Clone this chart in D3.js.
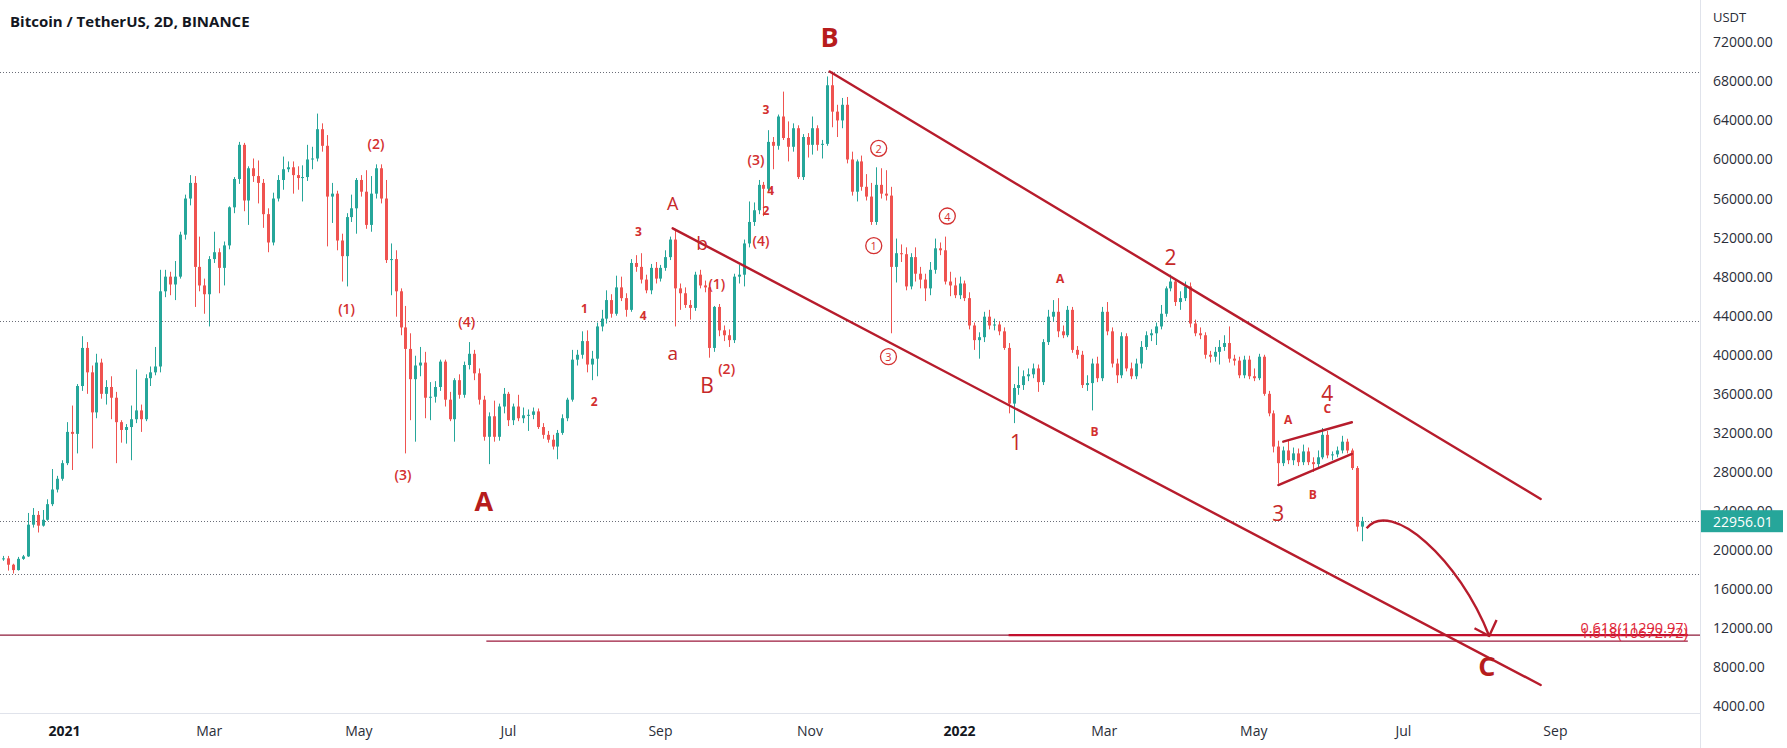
<!DOCTYPE html>
<html>
<head>
<meta charset="utf-8">
<script src="https://cdn.jsdelivr.net/npm/d3@7"></script>
<style>
  html, body { margin: 0; padding: 0; background: #fff; }
  svg { display: block; }
  text { font-family: "Open Sans", "Noto Sans", sans-serif; }
</style>
</head>
<body>
<script>
// BTC/USDT 2D candles, prices in thousands of USDT
const firstDay = new Date(Date.UTC(2020, 11, 7));
const stepDays = 2;

const opens = [
  19.05,19.15,18.5,17.95,19.1,19.35,22.6,23.6,22.5,23.1,
  24.7,26.2,27.3,28.9,32.1,31.9,36.8,40.7,38.2,34.1,
  39.2,36.0,36.7,35.6,33.1,32.3,32.6,33.4,34.3,33.4,
  37.6,38.2,38.8,46.5,48.0,47.2,48.0,52.3,56.0,57.6,
  49.0,47.1,46.2,49.8,50.5,48.9,51.2,55.1,58.0,61.5,
  55.8,59.1,58.3,57.6,54.4,51.5,56.0,57.9,59.0,59.2,
  58.4,58.1,58.2,60.0,60.1,63.1,61.4,56.2,56.5,51.7,
  50.1,54.1,55.0,57.9,56.7,53.3,56.5,59.1,56.0,49.7,
  49.8,46.5,42.8,40.6,37.5,38.9,39.2,35.6,35.7,36.7,
  39.3,35.4,33.4,37.4,35.9,38.95,40.1,38.1,35.4,31.6,
  33.7,31.6,34.7,36.0,33.3,34.7,33.5,33.8,33.85,34.2,
  32.6,31.8,31.3,30.6,32.0,33.5,35.4,39.5,40.0,41.4,
  39.0,39.6,42.9,43.7,45.6,44.2,46.9,45.8,44.6,49.4,
  49.0,47.7,46.6,48.9,47.8,48.9,50.0,51.8,46.8,46.3,
  45.1,44.8,48.2,47.1,46.9,40.7,44.9,42.5,42.0,41.5,
  48.0,48.2,51.4,53.6,54.8,57.4,57.0,61.8,61.4,64.4,
  62.2,61.3,63.2,58.2,62.3,61.5,63.2,61.5,61.6,67.6,
  64.9,64.0,65.6,60.0,56.7,59.8,57.2,56.2,53.6,57.4,
  56.5,56.3,49.0,50.4,50.3,47.0,50.0,48.3,47.7,46.8,
  48.7,50.9,50.7,47.5,47.1,46.1,47.3,45.8,43.0,41.5,
  41.8,43.9,43.0,43.1,42.4,40.7,35.0,36.6,36.9,37.8,
  38.0,38.6,37.2,41.3,43.9,44.4,42.4,42.0,44.6,40.5,
  40.0,36.9,37.1,39.1,37.6,44.4,42.4,39.1,37.9,41.9,
  38.6,37.8,39.1,40.8,42.0,42.2,42.9,44.2,46.8,47.5,
  45.4,45.8,47.0,43.2,42.2,42.0,40.0,39.8,40.3,40.8,
  41.2,39.6,39.4,37.9,39.5,37.8,37.6,39.8,36.0,34.0,
  30.6,28.9,30.2,29.2,29.9,29.0,30.1,29.0,28.8,29.5,
  31.8,29.7,29.8,30.2,31.1,30.2,28.4,22.4
];
const highs = [
  19.4,19.4,18.6,19.3,19.5,23.8,24.3,24.0,24.1,25.2,
  28.3,27.6,29.2,33.1,34.8,37.0,41.9,41.3,38.9,40.1,
  39.6,37.4,37.8,36.2,33.3,32.9,34.8,38.5,34.9,38.0,
  38.8,40.8,48.7,48.7,48.5,49.6,52.6,56.4,58.4,58.3,
  52.1,47.8,50.1,52.6,50.9,51.6,55.2,58.2,61.8,61.7,
  59.3,60.1,59.9,58.0,55.0,56.6,58.4,60.3,59.8,59.8,
  59.3,59.4,61.5,61.3,64.7,63.7,62.5,57.6,56.8,52.4,
  54.5,56.4,58.1,58.4,58.9,58.3,59.5,59.5,57.9,51.4,
  50.7,46.8,45.0,42.2,39.9,40.8,40.3,37.2,37.3,39.5,
  39.5,36.2,37.6,38.0,39.3,41.3,40.5,38.6,35.8,34.1,
  35.3,35.0,36.6,36.2,35.0,35.9,34.6,34.4,34.6,34.5,
  33.0,32.2,31.8,32.3,33.9,35.6,40.5,40.5,42.4,42.5,
  40.4,43.3,44.6,46.6,46.2,48.1,48.0,46.3,49.8,50.2,
  50.4,48.2,49.3,49.5,49.2,50.7,52.1,52.9,47.3,46.9,
  45.6,48.5,48.7,47.6,47.3,45.0,45.2,43.0,42.6,48.3,
  49.2,51.8,55.7,55.6,57.9,57.7,63.0,62.3,64.6,66.95,
  63.9,63.7,63.5,62.6,62.7,64.4,63.5,62.0,68.5,69.0,
  65.6,66.3,66.4,60.8,60.0,60.4,58.5,57.6,59.2,59.1,
  58.9,57.2,51.9,51.3,51.0,50.4,51.0,49.0,48.3,49.5,
  51.9,51.5,52.1,48.5,47.9,48.0,47.6,46.4,43.3,42.3,
  44.4,44.6,43.7,43.4,42.8,41.2,37.0,38.8,38.4,38.6,
  39.1,39.0,41.6,44.6,45.6,45.8,43.0,45.0,44.9,40.9,
  40.4,37.9,39.6,39.8,44.9,45.4,42.8,39.6,42.3,42.2,
  39.2,39.6,41.4,42.4,42.6,43.3,45.1,47.0,48.2,47.7,
  46.5,47.5,47.4,43.6,42.8,42.3,40.4,40.8,41.5,42.0,
  42.9,40.0,39.8,39.9,39.9,38.6,40.1,40.0,36.3,34.3,
  31.2,30.6,31.2,30.5,30.4,30.8,30.5,29.5,30.2,32.5,
  32.2,30.1,30.6,31.7,31.4,30.4,28.6,23.4
];
const lows = [
  18.9,17.9,17.6,17.9,19.0,19.3,22.3,21.8,22.4,23.0,
  24.5,25.9,27.1,28.7,28.2,29.9,36.3,36.0,30.4,33.5,
  35.5,34.9,33.4,28.9,31.0,30.9,29.2,33.0,32.1,33.2,
  36.8,37.9,38.2,45.9,46.1,45.6,47.8,51.8,55.3,44.9,
  46.5,44.2,42.9,49.4,46.3,47.1,50.8,54.5,57.5,54.7,
  53.3,57.7,55.5,53.0,50.5,51.2,55.7,56.9,58.7,56.5,
  56.9,55.7,57.8,59.0,59.8,60.8,51.1,53.5,50.7,47.5,
  47.0,53.6,52.4,56.2,52.9,52.6,56.0,55.5,49.4,46.1,
  43.9,42.0,29.9,33.3,31.1,37.8,33.5,33.3,35.1,36.3,
  34.7,33.2,31.1,35.5,35.6,38.5,37.4,34.9,31.2,28.8,
  31.1,31.2,34.0,32.7,32.8,33.2,33.0,32.2,33.4,32.4,
  31.4,31.0,30.3,29.3,31.8,33.2,35.2,38.9,39.6,38.2,
  37.4,37.8,42.4,43.2,43.8,44.0,45.5,43.9,44.4,48.5,
  47.3,46.3,46.2,47.3,47.5,48.6,49.7,42.9,44.6,44.8,
  43.6,44.5,46.8,46.4,39.7,40.3,41.9,41.4,40.8,41.2,
  47.3,47.0,51.0,53.2,54.4,54.2,56.8,59.0,61.0,62.0,
  59.8,60.8,58.0,57.9,60.2,60.5,60.9,60.1,61.4,63.3,
  62.3,63.2,59.6,56.3,55.7,56.8,55.8,53.3,53.3,56.0,
  55.8,42.2,47.4,49.5,46.6,46.7,47.5,46.8,45.5,46.1,
  48.3,50.2,47.2,46.0,45.8,45.7,45.5,42.6,40.5,39.6,
  41.3,42.6,42.5,42.0,40.5,34.0,33.0,35.9,36.4,37.3,
  37.6,36.2,36.9,41.0,43.4,41.8,41.7,41.8,40.2,39.6,
  36.6,36.3,34.3,37.2,37.3,42.0,38.7,37.1,37.6,38.3,
  37.5,37.5,38.6,40.5,41.4,41.0,42.6,43.9,46.5,45.0,
  44.6,45.5,42.8,41.9,41.6,39.6,39.2,39.3,39.0,40.4,
  39.2,38.9,37.6,37.6,37.5,37.3,37.4,35.8,33.7,30.0,
  26.8,28.6,28.8,28.7,28.6,28.7,28.7,28.0,28.5,29.3,
  29.4,29.2,29.5,29.9,29.9,28.2,21.9,20.9
];
const closes = [
  19.15,18.5,17.95,19.1,19.35,22.6,23.6,22.5,23.1,24.7,
  26.2,27.3,28.9,32.1,31.9,36.8,40.7,38.2,34.1,39.2,
  36.0,36.7,35.6,33.1,32.3,32.6,33.4,34.3,33.4,37.6,
  38.2,38.8,46.5,48.0,47.2,48.0,52.3,56.0,57.6,49.0,
  47.1,46.2,49.8,50.5,48.9,51.2,55.1,58.0,61.5,55.8,
  59.1,58.3,57.6,54.4,51.5,56.0,57.9,59.0,59.2,58.4,
  58.1,58.2,60.0,60.1,63.1,61.4,56.2,56.5,51.7,50.1,
  54.1,55.0,57.9,56.7,53.3,56.5,59.1,56.0,49.7,49.8,
  46.5,42.8,40.6,37.5,38.9,39.2,35.6,35.7,36.7,39.3,
  35.4,33.4,37.4,35.9,38.95,40.1,38.1,35.4,31.6,33.7,
  31.6,34.7,36.0,33.3,34.7,33.5,33.8,33.85,34.2,32.6,
  31.8,31.3,30.6,32.0,33.5,35.4,39.5,40.0,41.4,39.0,
  39.6,42.9,43.7,45.6,44.2,46.9,45.8,44.6,49.4,49.0,
  47.7,46.6,48.9,47.8,48.9,50.0,51.8,46.8,46.3,45.1,
  44.8,48.2,47.1,46.9,40.7,44.9,42.5,42.0,41.5,48.0,
  48.2,51.4,53.6,54.8,57.4,57.0,61.8,61.4,64.4,62.2,
  61.3,63.2,58.2,62.3,61.5,63.2,61.5,61.6,67.6,64.9,
  64.0,65.6,60.0,56.7,59.8,57.2,56.2,53.6,57.4,56.5,
  56.3,49.0,50.4,50.3,47.0,50.0,48.3,47.7,46.8,48.7,
  50.9,50.7,47.5,47.1,46.1,47.3,45.8,43.0,41.5,41.8,
  43.9,43.0,43.1,42.4,40.7,35.0,36.6,36.9,37.8,38.0,
  38.6,37.2,41.3,43.9,44.4,42.4,42.0,44.6,40.5,40.0,
  36.9,37.1,39.1,37.6,44.4,42.4,39.1,37.9,41.9,38.6,
  37.8,39.1,40.8,42.0,42.2,42.9,44.2,46.8,47.5,45.4,
  45.8,47.0,43.2,42.2,42.0,40.0,39.8,40.3,40.8,41.2,
  39.6,39.4,37.9,39.5,37.8,37.6,39.8,36.0,34.0,30.6,
  28.9,30.2,29.2,29.9,29.0,30.1,29.0,28.8,29.5,31.8,
  29.7,29.8,30.2,31.1,30.2,28.4,22.4,22.95601
];

const lastPrice = 22.95601;
const priceTicks = [4, 8, 12, 16, 20, 24, 28, 32, 36, 40, 44, 48, 52, 56, 60, 64, 68, 72];
const timeTicks = ['2021-01-01', '2021-03-01', '2021-05-01', '2021-07-01', '2021-09-01', '2021-11-01',
  '2022-01-01', '2022-03-01', '2022-05-01', '2022-07-01', '2022-09-01'];
const timeTickLabels = ['2021', 'Mar', 'May', 'Jul', 'Sep', 'Nov', '2022', 'Mar', 'May', 'Jul', 'Sep'];
const dottedLevels = [69.0, 43.45, lastPrice, 17.5];

// drawings (date, price)
const channel = [
  ['2021-11-09', 69.0, '2022-08-26', 25.23],
  ['2021-09-06', 52.95, '2022-08-26', 6.18]
];
const wedge = [
  ['2022-05-13', 31.1, '2022-06-10', 33.09],
  ['2022-05-11', 26.66, '2022-06-10', 29.84]
];
const arrowCurve = [['2022-06-16', 22.23], ['2022-06-26', 25.33], ['2022-07-24', 18.98], ['2022-08-05', 11.2]];
const arrowHead = [['2022-07-30', 11.99], ['2022-08-05', 11.2], ['2022-08-08', 12.84]];
const fibLevels = [
  { text: '0.618(11290.97)', price: 11.29097, from: '2022-01-21', to: '2022-10-25', w: 2.4, dy: -2 },
  { text: '1.618(10672.72)', price: 10.67272, from: '2021-06-22', to: '2022-10-25', w: 1.2, dy: -3 }
];

// [date, price, text, style]
const waveLabels = [
  ['2021-05-08', 61.66, '(2)', 'paren'],
  ['2021-04-26', 44.7, '(1)', 'paren'],
  ['2021-05-19', 27.7, '(3)', 'paren'],
  ['2021-06-14', 43.4, '(4)', 'paren'],
  ['2021-06-21', 25.08, 'A', 'big'],
  ['2021-08-01', 44.76, '1', 'small'],
  ['2021-08-05', 35.2, '2', 'small'],
  ['2021-08-23', 52.6, '3', 'small'],
  ['2021-08-25', 44.07, '4', 'small'],
  ['2021-09-06', 55.51, 'A', 'midA'],
  ['2021-09-18', 51.48, 'b', 'lower'],
  ['2021-09-06', 40.15, 'a', 'lower'],
  ['2021-09-24', 47.32, '(1)', 'paren'],
  ['2021-09-20', 36.91, 'B', 'mid'],
  ['2021-09-28', 38.62, '(2)', 'paren'],
  ['2021-10-12', 51.75, '(4)', 'paren'],
  ['2021-10-14', 54.75, '2', 'small'],
  ['2021-10-16', 56.8, '4', 'small'],
  ['2021-10-10', 60.02, '(3)', 'paren'],
  ['2021-10-14', 65.14, '3', 'small'],
  ['2021-11-09', 72.6, 'B', 'big'],
  ['2022-01-24', 31.1, '1', 'mid'],
  ['2022-02-11', 47.83, 'A', 'small'],
  ['2022-02-25', 32.12, 'B', 'small'],
  ['2022-03-28', 50.04, '2', 'mid'],
  ['2022-05-15', 33.42, 'A', 'small'],
  ['2022-05-31', 36.06, '4', 'mid'],
  ['2022-05-31', 34.52, 'C', 'small'],
  ['2022-05-25', 25.74, 'B', 'small'],
  ['2022-05-11', 23.83, '3', 'mid'],
  ['2022-08-04', 8.18, 'C', 'big']
];
const circledLabels = [
  ['2021-11-29', 61.14, '2'],
  ['2021-11-27', 51.17, '1'],
  ['2021-12-03', 39.8, '3'],
  ['2021-12-27', 54.21, '4']
];

const W = 1787, H = 748, paneRight = 1700, axisTop = 713;
const up = '#26a69a', down = '#ef5350', lineRed = '#b71c2c', labelRed = '#d32f2f';
const parse = d3.utcParse('%Y-%m-%d');
const lastDay = d3.utcDay.offset(firstDay, (closes.length - 1) * stepDays);

const x = d3.scaleTime().domain([firstDay, lastDay]).range([3.3, 1361.7]);
const y = d3.scaleLinear().domain([4, 72]).range([706.3, 42.3]);
const px = s => x(parse(s));

const svg = d3.select('body').append('svg').attr('width', W).attr('height', H);

svg.append('defs').append('clipPath').attr('id', 'pane')
  .append('rect').attr('x', 0).attr('y', 0).attr('width', paneRight).attr('height', axisTop);

const pane = svg.append('g').attr('clip-path', 'url(#pane)');

// dotted horizontal levels
pane.selectAll('line.lvl')
  .data(dottedLevels)
  .enter()
  .append('line')
  .attr('x1', 0).attr('x2', paneRight)
  .attr('y1', d => Math.round(y(d)) + 0.5).attr('y2', d => Math.round(y(d)) + 0.5)
  .attr('stroke', '#6a6d78').attr('stroke-width', 1).attr('stroke-dasharray', '1,2');

// long fib base line
pane.append('line')
  .attr('x1', 0).attr('x2', paneRight)
  .attr('y1', y(fibLevels[0].price)).attr('y2', y(fibLevels[0].price))
  .attr('stroke', '#8e1b3a').attr('stroke-width', 1.2);

// candles
const bars = closes.map((c, i) => ({ i, o: opens[i], h: highs[i], l: lows[i], c }));
const cx = d => Math.round(x(d3.utcDay.offset(firstDay, d.i * stepDays))) + 0.5;
const col = d => d.c >= d.o ? up : down;

const candle = pane.selectAll('g.candle')
  .data(bars)
  .enter()
  .append('g');

candle.append('line')
  .attr('x1', cx).attr('x2', cx)
  .attr('y1', d => y(d.h)).attr('y2', d => y(d.l))
  .attr('stroke', col).attr('stroke-width', 1);

candle.append('rect')
  .attr('x', d => cx(d) - 1.5)
  .attr('width', 3)
  .attr('y', d => y(Math.max(d.o, d.c)))
  .attr('height', d => Math.max(1, Math.abs(y(d.o) - y(d.c))))
  .attr('fill', col);

// fib levels
fibLevels.forEach(f => {
  pane.append('line')
    .attr('x1', px(f.from)).attr('x2', px(f.to))
    .attr('y1', y(f.price)).attr('y2', y(f.price))
    .attr('stroke', f.w > 2 ? '#c2102e' : '#9c1a3c').attr('stroke-width', f.w);
  pane.append('text')
    .attr('x', px(f.to)).attr('y', y(f.price) + f.dy)
    .attr('text-anchor', 'end')
    .attr('font-size', '14.5px')
    .attr('fill', '#e0283a')
    .text(f.text);
});

// channel and wedge lines
pane.selectAll('line.trend')
  .data(channel.concat(wedge))
  .enter()
  .append('line')
  .attr('x1', d => px(d[0])).attr('y1', d => y(d[1]))
  .attr('x2', d => px(d[2])).attr('y2', d => y(d[3]))
  .attr('stroke', lineRed).attr('stroke-width', 2.4).attr('stroke-linecap', 'round');

// projected path arrow
const cp = arrowCurve.map(p => [px(p[0]), y(p[1])]);
pane.append('path')
  .attr('d', `M${cp[0]}C${cp[1]} ${cp[2]} ${cp[3]}`)
  .attr('fill', 'none').attr('stroke', lineRed).attr('stroke-width', 2.4);
pane.append('path')
  .attr('d', d3.line()(arrowHead.map(p => [px(p[0]), y(p[1])])))
  .attr('fill', 'none').attr('stroke', lineRed).attr('stroke-width', 2.4)
  .attr('stroke-linejoin', 'round');

// wave labels
const styles = {
  big:   { size: 27, weight: 700, fill: '#b71c1c' },
  mid:   { size: 21, weight: 400, fill: '#c62828' },
  midA:  { size: 18, weight: 400, fill: '#c62828' },
  lower: { size: 19, weight: 400, fill: '#c62828' },
  small: { size: 12, weight: 700, fill: labelRed },
  paren: { size: 14, weight: 600, fill: labelRed }
};
pane.selectAll('text.wave')
  .data(waveLabels)
  .enter()
  .append('text')
  .attr('x', d => px(d[0]))
  .attr('y', d => y(d[1]))
  .attr('text-anchor', 'middle')
  .attr('dominant-baseline', 'central')
  .attr('font-size', d => styles[d[3]].size + 'px')
  .attr('font-weight', d => styles[d[3]].weight)
  .attr('fill', d => styles[d[3]].fill)
  .text(d => d[2]);

const circ = pane.selectAll('g.circ')
  .data(circledLabels)
  .enter()
  .append('g')
  .attr('transform', d => `translate(${px(d[0])},${y(d[1])})`);
circ.append('circle').attr('r', 8).attr('fill', 'none').attr('stroke', labelRed).attr('stroke-width', 1.3);
circ.append('text')
  .attr('text-anchor', 'middle').attr('dominant-baseline', 'central')
  .attr('font-size', '11px').attr('fill', labelRed)
  .text(d => d[2]);

// axes frame
svg.append('line').attr('x1', paneRight + 0.5).attr('x2', paneRight + 0.5).attr('y1', 0).attr('y2', H)
  .attr('stroke', '#e0e3eb');
svg.append('line').attr('x1', 0).attr('x2', paneRight).attr('y1', axisTop + 0.5).attr('y2', axisTop + 0.5)
  .attr('stroke', '#e0e3eb');

// price axis
const yAxis = svg.append('g')
  .attr('transform', `translate(${paneRight},0)`)
  .call(d3.axisRight(y).tickValues(priceTicks).tickSize(0).tickPadding(13)
    .tickFormat(d => (d * 1000).toFixed(2)));
yAxis.select('.domain').remove();
yAxis.selectAll('text')
  .attr('font-family', '"Open Sans", sans-serif')
  .attr('font-size', '14px')
  .attr('fill', '#2a2e39');

svg.append('text')
  .attr('x', paneRight + 13).attr('y', 17)
  .attr('dominant-baseline', 'central')
  .attr('font-size', '13px').attr('fill', '#2a2e39')
  .text('USDT');

// last price tag
svg.append('rect')
  .attr('x', paneRight + 1).attr('y', y(lastPrice) - 11)
  .attr('width', 82).attr('height', 22)
  .attr('fill', up);
svg.append('text')
  .attr('x', paneRight + 13).attr('y', y(lastPrice))
  .attr('dominant-baseline', 'central')
  .attr('font-size', '14px').attr('fill', '#fff')
  .text((lastPrice * 1000).toFixed(2));

// time axis
svg.selectAll('text.tt')
  .data(timeTicks)
  .enter()
  .append('text')
  .attr('x', d => px(d))
  .attr('y', 730)
  .attr('text-anchor', 'middle')
  .attr('dominant-baseline', 'central')
  .attr('font-size', '14px')
  .attr('font-weight', (d, i) => /^\d/.test(timeTickLabels[i]) ? 700 : 400)
  .attr('fill', (d, i) => /^\d/.test(timeTickLabels[i]) ? '#131722' : '#2a2e39')
  .text((d, i) => timeTickLabels[i]);

// title
svg.append('text')
  .attr('x', 10).attr('y', 21)
  .attr('dominant-baseline', 'central')
  .attr('font-size', '15px').attr('font-weight', 700).attr('fill', '#131722')
  .text('Bitcoin / TetherUS, 2D, BINANCE');
</script>
</body>
</html>
